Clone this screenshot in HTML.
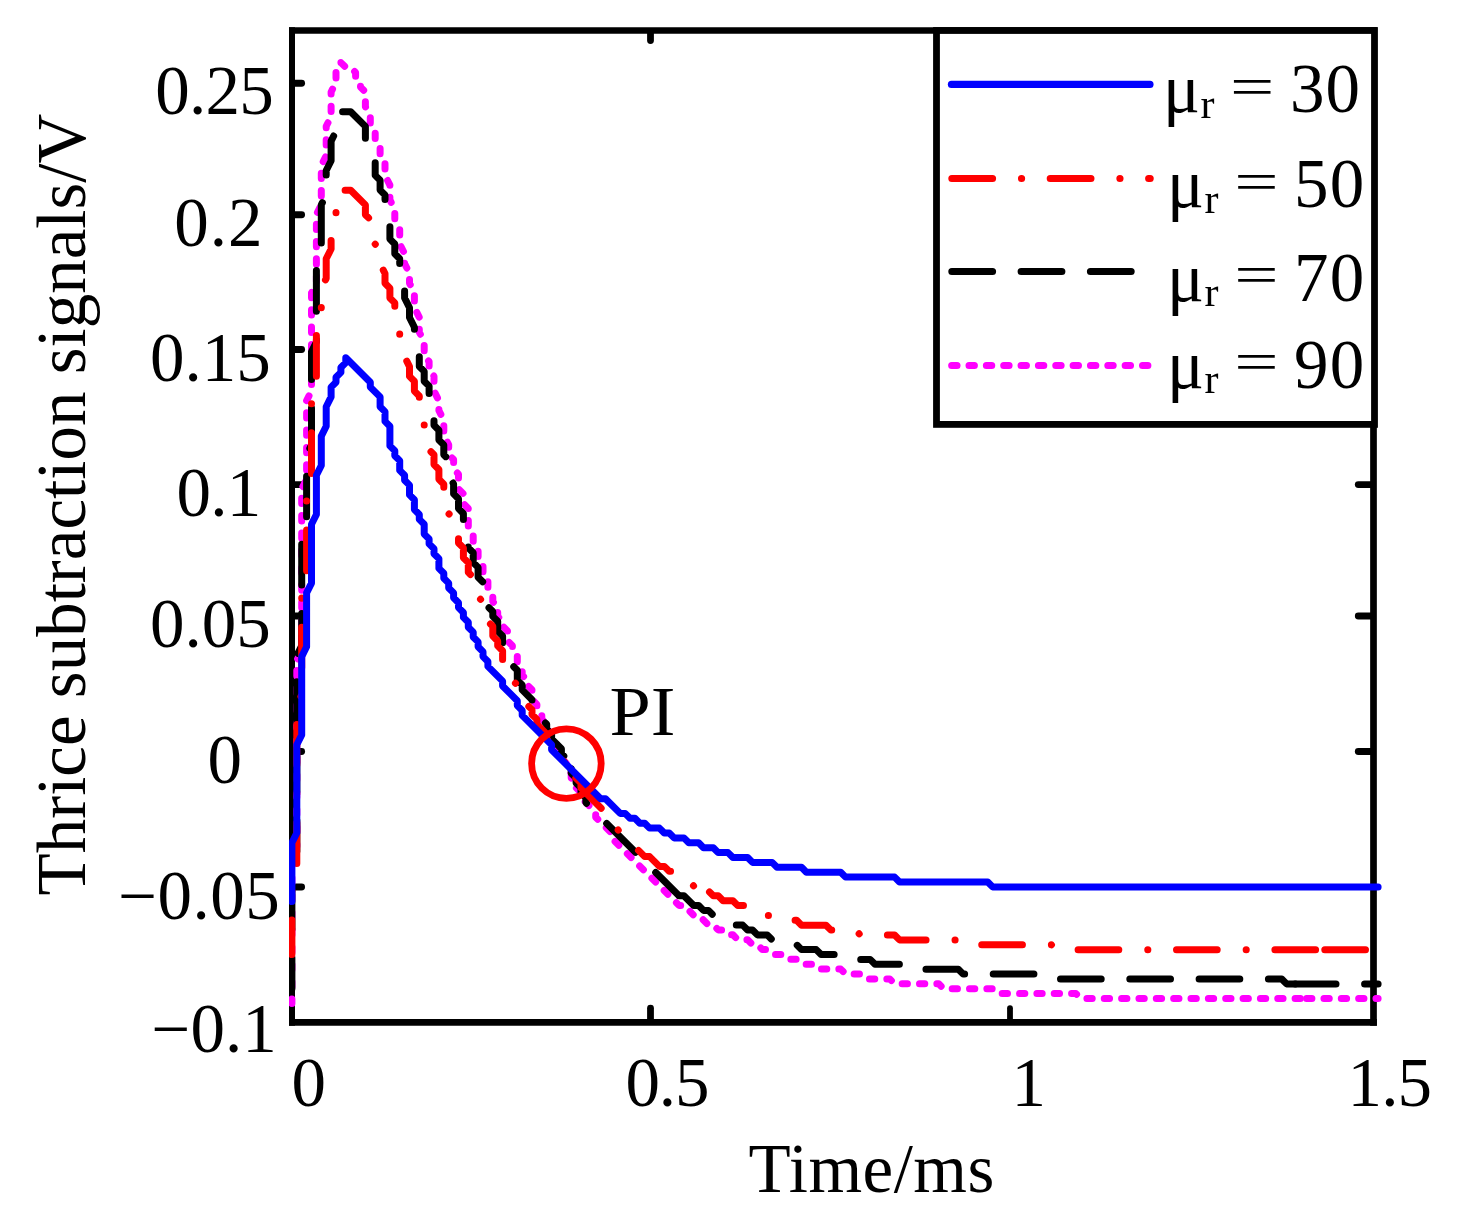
<!DOCTYPE html>
<html lang="en">
<head>
<meta charset="utf-8">
<title>Thrice subtraction signals</title>
<style>
html,body{margin:0;padding:0;background:#fff;}
body{width:1463px;height:1230px;overflow:hidden;}
svg{display:block;}
</style>
</head>
<body>
<svg width="1463" height="1230" viewBox="0 0 1463 1230">
<rect width="1463" height="1230" fill="#fff"/>
<g stroke="#000" fill="none" stroke-linecap="butt">
<line x1="292" y1="27.2" x2="292" y2="1025.8" stroke-width="6"/>
<line x1="289" y1="30.5" x2="1376.9" y2="30.5" stroke-width="6.6"/>
<line x1="1373.5" y1="27.2" x2="1373.5" y2="1025.8" stroke-width="6.7"/>
<line x1="289" y1="1022.4" x2="1376.9" y2="1022.4" stroke-width="6.8"/>
</g>
<g stroke="#000" fill="none" stroke-linecap="round">
<line x1="294.5" y1="83.3" x2="301.6" y2="83.3" stroke-width="6.9"/>
<line x1="294.5" y1="214.7" x2="301.6" y2="214.7" stroke-width="6.9"/>
<line x1="294.5" y1="349.5" x2="301.6" y2="349.5" stroke-width="6.9"/>
<line x1="294.5" y1="484.6" x2="301.6" y2="484.6" stroke-width="6.9"/>
<line x1="1371" y1="484.6" x2="1358.3" y2="484.6" stroke-width="6.9"/>
<line x1="294.5" y1="616.0" x2="301.6" y2="616.0" stroke-width="6.9"/>
<line x1="1371" y1="616.0" x2="1358.3" y2="616.0" stroke-width="6.9"/>
<line x1="294.5" y1="751.5" x2="301.6" y2="751.5" stroke-width="6.9"/>
<line x1="1371" y1="751.5" x2="1358.3" y2="751.5" stroke-width="6.9"/>
<line x1="294.5" y1="887.0" x2="301.6" y2="887.0" stroke-width="6.9"/>
<line x1="650.5" y1="1020" x2="650.5" y2="1008.2" stroke-width="6.8"/>
<line x1="650.5" y1="33" x2="650.5" y2="40.6" stroke-width="6.8"/>
<line x1="1010.0" y1="1020" x2="1010.0" y2="1008.2" stroke-width="5.8"/>
<line x1="1010.0" y1="33" x2="1010.0" y2="40.6" stroke-width="5.8"/>
</g>
<clipPath id="plotclip"><rect x="289.1" y="0" width="1174" height="1230"/></clipPath>
<g clip-path="url(#plotclip)">
<path d="M291.9 1003.4 L291.9 856.4 L296.8 846.6 L296.8 660.4 L301.7 650.6 L301.7 488.9 L306.6 479.1 L306.6 400.7 L311.5 390.9 L311.5 292.9 L316.4 283.1 L316.4 214.5 L321.3 204.7 L321.3 165.5 L326.2 155.7 L326.2 126.3 L331.1 116.5 L331.1 92.0 L336.0 82.2 L336.0 72.4 L340.9 67.5 L340.9 62.6 L345.8 67.5 L350.7 67.5 L355.6 72.4 L355.6 77.3 L360.5 82.2 L360.5 87.1 L365.4 92.0 L365.4 106.7 L370.3 116.5 L370.3 126.3 L375.2 131.2 L375.2 141.0 L380.1 145.9 L380.1 155.7 L385.0 160.6 L385.0 175.3 L389.9 185.1 L389.9 199.8 L394.8 209.6 L394.8 219.4 L399.7 229.2 L399.7 243.9 L404.6 253.7 L404.6 263.5 L409.5 273.3 L409.5 283.1 L414.4 292.9 L414.4 307.6 L419.3 317.4 L419.3 332.1 L424.2 341.9 L424.2 356.6 L429.1 361.5 L429.1 371.3 L434.0 376.2 L434.0 390.9 L438.9 400.7 L438.9 410.5 L443.8 420.3 L443.8 435.0 L448.7 444.8 L448.7 454.6 L453.6 459.5 L453.6 469.3 L458.5 474.2 L458.5 488.9 L463.4 493.8 L463.4 503.6 L468.3 508.5 L468.3 528.1 L473.2 533.0 L473.2 542.8 L478.1 547.7 L478.1 557.5 L483.0 562.4 L483.0 572.2 L487.9 577.1 L487.9 591.8 L492.8 596.7 L492.8 601.6 L497.7 606.5 L497.7 616.3 L502.6 621.2 L502.6 626.1 L507.5 631.0 L507.5 640.8 L512.4 645.7 L512.4 650.6 L517.3 655.5 L517.3 665.3 L522.2 670.2 L522.2 675.1 L527.1 680.0 L527.1 684.9 L532.0 689.8 L532.0 699.6 L536.9 704.5 L536.9 709.4 L541.8 714.3 L541.8 719.2 L546.7 724.1 L546.7 729.0 L551.6 733.9 L551.6 738.8 L556.5 743.7 L556.5 748.6 L561.4 753.5 L561.4 758.4 L566.3 763.3 L566.3 768.2 L571.2 773.1 L571.2 778.0 L576.1 782.9 L576.1 787.8 L581.0 792.7 L581.0 797.6 L595.7 812.3 L595.7 817.2 L610.4 831.9 L610.4 836.8 L679.0 905.4 L683.9 905.4 L690.0 911.5" fill="none" stroke="#ff00ff" stroke-width="7.0" stroke-linecap="round" stroke-linejoin="round" stroke-dasharray="5.3 12.05" stroke-dashoffset="1.01"/>
<path d="M690.0 911.5 L693.7 915.2 L698.6 915.2 L708.4 925.0 L713.3 925.0 L718.2 929.9 L723.1 929.9 L728.0 934.8 L732.9 934.8 L737.8 939.7 L747.6 939.7 L752.5 944.6 L757.4 944.6 L762.3 949.5 L767.2 949.5 L772.1 954.4 L781.9 954.4 L786.8 959.3 L796.6 959.3 L801.5 964.2 L816.2 964.2 L821.1 969.1 L840.7 969.1 L845.6 974.0 L860.3 974.0 L865.2 978.9 L889.7 978.9 L894.6 983.8 L938.7 983.8 L943.6 988.7 L992.6 988.7 L997.5 993.6 L1075.9 993.6 L1080.8 998.5 L1306.6 998.5" fill="none" stroke="#ff00ff" stroke-width="7.0" stroke-linecap="round" stroke-linejoin="round" stroke-dasharray="5.3 12.05" stroke-dashoffset="0.81"/>
<path d="M1306.6 998.5 L1378.1 998.5" fill="none" stroke="#ff00ff" stroke-width="7.0" stroke-linecap="round" stroke-linejoin="round" stroke-dasharray="5.3 12.05" stroke-dashoffset="0.00"/>
<path d="M291.9 988.8 L291.9 861.4 L296.8 851.6 L296.8 655.6 L301.7 645.8 L301.7 528.2 L306.6 518.4 L306.6 454.7 L311.5 444.9 L311.5 351.8 L316.4 342.0 L316.4 268.5 L321.3 258.7 L321.3 204.8 L326.2 195.0 L326.2 170.5 L331.1 160.7 L331.1 141.1 L336.0 131.3 L336.0 121.5 L340.9 116.6 L340.9 111.7 L350.7 111.7 L365.4 126.4 L365.4 141.1 L370.3 146.0 L370.3 155.8 L375.2 160.7 L375.2 175.4 L380.1 180.3 L380.1 190.1 L385.0 195.0 L385.0 214.6 L389.9 224.4 L389.9 239.1 L394.8 244.0 L394.8 253.8 L399.7 258.7 L399.7 273.4 L404.6 283.2 L404.6 297.9 L409.5 307.7 L409.5 317.5 L414.4 327.3 L414.4 342.0 L419.3 351.8 L419.3 366.5 L424.2 371.4 L424.2 381.2 L429.1 386.1 L429.1 405.7 L434.0 415.5 L434.0 425.3 L438.9 430.2 L438.9 440.0 L443.8 444.9 L443.8 454.7 L448.7 459.6 L448.7 474.3 L453.6 484.1 L453.6 493.9 L458.5 498.8 L458.5 508.6 L463.4 513.5 L463.4 528.2 L468.3 538.0 L468.3 547.8 L473.2 552.7 L473.2 562.5 L478.1 567.4 L478.1 577.2 L483.0 582.1 L483.0 591.9 L487.9 596.8 L487.9 606.6 L492.8 611.5 L492.8 616.4 L497.7 621.3 L497.7 631.1 L502.6 636.0 L502.6 645.8 L507.5 650.7 L507.5 655.6 L512.4 660.5 L512.4 665.4 L517.3 670.3 L517.3 680.1 L522.2 685.0 L522.2 689.9 L532.0 699.7 L532.0 704.6 L536.9 709.5 L536.9 714.4 L546.7 724.2 L546.7 729.1 L551.6 734.0 L551.6 738.9 L561.4 748.7 L561.4 753.6 L566.0 758.2" fill="none" stroke="#000000" stroke-width="7.0" stroke-linecap="round" stroke-linejoin="round" stroke-dasharray="40.7 28.6" stroke-dashoffset="9.66"/>
<path d="M566.0 758.2 L566.3 758.5 L566.3 763.4 L571.2 768.3 L571.2 773.2 L576.1 778.1 L576.1 783.0 L581.0 787.9 L581.0 792.8 L585.9 797.7 L585.9 802.6 L678.0 894.7" fill="none" stroke="#000000" stroke-width="7.0" stroke-linecap="round" stroke-linejoin="round" stroke-dasharray="40.7 28.6" stroke-dashoffset="56.54"/>
<path d="M678.0 894.7 L679.0 895.7 L683.9 895.7 L693.7 905.5 L698.6 905.5 L703.5 910.4 L708.4 910.4 L713.3 915.3 L718.2 915.3 L723.1 920.2 L728.0 920.2 L732.9 925.1 L742.7 925.1 L747.6 930.0 L752.5 930.0 L757.4 934.9 L767.2 934.9 L772.1 939.8 L781.9 939.8 L786.8 944.7 L796.6 944.7 L801.5 949.6 L816.2 949.6 L821.1 954.5 L840.7 954.5 L845.6 959.4 L870.1 959.4 L875.0 964.3 L904.4 964.3 L909.3 969.2 L958.3 969.2 L963.2 974.1 L1041.6 974.1 L1046.5 979.0 L1281.7 979.0 L1286.6 983.9 L1295.3 983.9" fill="none" stroke="#000000" stroke-width="7.0" stroke-linecap="round" stroke-linejoin="round" stroke-dasharray="40.7 28.6" stroke-dashoffset="67.68"/>
<path d="M1295.3 983.9 L1378.1 983.9" fill="none" stroke="#000000" stroke-width="7.0" stroke-linecap="round" stroke-linejoin="round" stroke-dasharray="40.7 28.6" stroke-dashoffset="0.00"/>
<path d="M291.9 954.6 L291.9 886.0 L296.8 876.2 L296.8 704.7 L301.7 694.9 L301.7 587.1 L306.6 577.3 L306.6 494.0 L311.5 484.2 L311.5 400.9 L316.4 391.1 L316.4 327.4 L321.3 317.6 L321.3 288.2 L326.2 278.4 L326.2 258.8 L331.1 249.0 L331.1 234.3 L336.0 224.5 L336.0 209.8 L340.9 204.9 L340.9 190.2 L350.7 190.2 L365.4 204.9 L365.4 214.7 L370.3 219.6 L370.3 229.4 L375.2 234.3 L375.2 244.1 L380.1 249.0 L380.1 263.7 L385.0 273.5 L385.0 283.3 L389.9 288.2 L389.9 298.0 L394.8 302.9 L394.8 317.6 L399.7 327.4 L399.7 337.2 L404.6 347.0 L404.6 356.8 L409.5 366.6 L409.5 376.4 L414.4 381.3 L414.4 391.1 L419.3 396.0 L419.3 410.7 L424.2 420.5 L424.2 430.3 L429.1 440.1 L429.1 449.9 L434.0 454.8 L434.0 464.6 L438.9 469.5 L438.9 479.3 L443.8 484.2 L443.8 498.9 L448.7 503.8 L448.7 513.6 L453.6 518.5 L453.6 528.3 L458.5 533.2 L458.5 543.0 L463.4 547.9 L463.4 557.7 L468.3 562.6 L468.3 572.4 L473.2 577.3 L473.2 587.1 L478.1 592.0 L478.1 596.9 L483.0 601.8 L483.0 611.6 L487.9 616.5 L487.9 621.4 L492.8 626.3 L492.8 636.1 L497.7 641.0 L497.7 645.9 L502.6 650.8 L502.6 660.6 L507.5 665.5 L507.5 670.4 L512.4 675.3 L512.4 680.2 L517.3 685.1 L517.3 690.0 L522.2 694.9 L522.2 699.8 L532.0 709.6 L532.0 714.5 L536.9 719.4 L536.9 724.3 L546.7 734.1 L546.7 739.0 L556.5 748.8 L556.5 753.7 L566.0 763.2" fill="none" stroke="#ff0000" stroke-width="7.0" stroke-linecap="round" stroke-linejoin="round" stroke-dasharray="40.7 28.95 0.1 28.65" stroke-dashoffset="6.16"/>
<path d="M566.0 763.2 L571.2 768.4 L571.2 773.3 L581.0 783.1 L581.0 788.0 L610.4 817.4 L610.4 822.3 L644.7 856.6 L649.6 856.6 L659.4 866.4 L664.3 866.4 L669.2 871.3 L674.1 871.3 L679.0 876.2 L683.9 876.2 L693.7 886.0 L698.6 886.0 L703.5 890.9 L708.4 890.9 L709.5 892.0" fill="none" stroke="#ff0000" stroke-width="7.0" stroke-linecap="round" stroke-linejoin="round" stroke-dasharray="40.7 28.95 0.1 28.65" stroke-dashoffset="79.57"/>
<path d="M709.5 892.0 L713.3 895.8 L718.2 895.8 L723.1 900.7 L732.9 900.7 L737.8 905.6 L747.6 905.6 L752.5 910.5 L762.3 910.5 L767.2 915.4 L777.0 915.4 L781.9 920.3 L796.6 920.3 L801.5 925.2 L826.0 925.2 L830.9 930.1 L855.4 930.1 L860.3 935.0 L894.6 935.0 L899.5 939.9 L958.3 939.9 L963.2 944.8 L1051.4 944.8 L1056.3 949.7 L1324.8 949.7" fill="none" stroke="#ff0000" stroke-width="7.0" stroke-linecap="round" stroke-linejoin="round" stroke-dasharray="40.7 28.95 0.1 28.65" stroke-dashoffset="1.10"/>
<path d="M1324.8 949.7 L1378.1 949.7" fill="none" stroke="#ff0000" stroke-width="7.0" stroke-linecap="round" stroke-linejoin="round" stroke-dasharray="40.7 28.95 0.1 28.65" stroke-dashoffset="0.00"/>
<path d="M291.9 901.6 L291.9 842.8 L296.8 833.0 L296.8 744.8 L301.7 735.0 L301.7 656.6 L306.6 646.8 L306.6 592.9 L311.5 583.1 L311.5 524.3 L316.4 514.5 L316.4 475.3 L321.3 465.5 L321.3 436.1 L326.2 426.3 L326.2 406.7 L331.1 396.9 L331.1 387.1 L336.0 382.2 L336.0 377.3 L340.9 372.4 L340.9 367.5 L345.8 362.6 L345.8 357.7 L370.3 382.2 L370.3 387.1 L380.1 396.9 L380.1 406.7 L385.0 411.6 L385.0 421.4 L389.9 426.3 L389.9 445.9 L394.8 450.8 L394.8 455.7 L399.7 460.6 L399.7 470.4 L404.6 475.3 L404.6 480.2 L409.5 485.1 L409.5 494.9 L414.4 499.8 L414.4 509.6 L419.3 514.5 L419.3 519.4 L424.2 524.3 L424.2 534.1 L429.1 539.0 L429.1 543.9 L434.0 548.8 L434.0 553.7 L438.9 558.6 L438.9 568.4 L443.8 573.3 L443.8 578.2 L448.7 583.1 L448.7 588.0 L453.6 592.9 L453.6 597.8 L458.5 602.7 L458.5 607.6 L463.4 612.5 L463.4 617.4 L468.3 622.3 L468.3 627.2 L473.2 632.1 L473.2 637.0 L478.1 641.9 L478.1 646.8 L483.0 651.7 L483.0 656.6 L487.9 661.5 L487.9 666.4 L502.6 681.1 L502.6 686.0 L517.3 700.7 L517.3 705.6 L522.2 710.5 L522.2 715.4 L551.6 744.8 L551.6 749.7 L600.6 798.7 L605.5 798.7 L620.2 813.4 L625.1 813.4 L630.0 818.3 L634.9 818.3 L639.8 823.2 L644.7 823.2 L649.6 828.1 L659.4 828.1 L664.3 833.0 L669.2 833.0 L674.1 837.9 L683.9 837.9 L688.8 842.8 L698.6 842.8 L703.5 847.7 L713.3 847.7 L718.2 852.6 L728.0 852.6 L732.9 857.5 L747.6 857.5 L752.5 862.4 L772.1 862.4 L777.0 867.3 L801.5 867.3 L806.4 872.2 L840.7 872.2 L845.6 877.1 L894.6 877.1 L899.5 882.0 L987.7 882.0 L992.6 886.9 L1378.1 886.9" fill="none" stroke="#0000ff" stroke-width="7.0" stroke-linecap="round" stroke-linejoin="round"/>
</g>
<circle cx="566.4" cy="763.6" r="34.8" fill="none" stroke="#ff0000" stroke-width="6.8"/>
<rect x="936.5" y="30.5" width="438" height="393.9" fill="#fff" stroke="#000" stroke-width="6.8"/>
<g fill="none" stroke-linecap="round" stroke-width="7.1">
<line x1="951.4" y1="84.4" x2="1150" y2="84.4" stroke="#0000ff"/>
<line x1="951.85" y1="178.5" x2="1150.2" y2="178.5" stroke="#ff0000" stroke-dasharray="40.7 28.95 0.1 28.65"/>
<line x1="951.85" y1="271.5" x2="1150.2" y2="271.5" stroke="#000" stroke-dasharray="40.7 28.6"/>
<line x1="951.7" y1="365.5" x2="1150.2" y2="365.5" stroke="#ff00ff" stroke-dasharray="5.3 12.05"/>
</g>
<g font-family="'Liberation Serif', serif" font-size="69" fill="#000">
<g>
<text y="112.0"><tspan x="1163.0">μ</tspan><tspan x="1200.4" font-size="42" dy="5.6">r</tspan></text>
<text transform="matrix(1.14 0 0 0.794 1230.1 104.6)" x="0" y="0">=</text>
<text x="1289.9" y="112.0" letter-spacing="1.2">30</text>
</g>
<g>
<text y="206.9"><tspan x="1167.1">μ</tspan><tspan x="1204.5" font-size="42" dy="5.6">r</tspan></text>
<text transform="matrix(1.14 0 0 0.794 1234.2 199.5)" x="0" y="0">=</text>
<text x="1294.0" y="206.9" letter-spacing="1.2">50</text>
</g>
<g>
<text y="300.8"><tspan x="1167.1">μ</tspan><tspan x="1204.5" font-size="42" dy="5.6">r</tspan></text>
<text transform="matrix(1.14 0 0 0.794 1234.2 293.4)" x="0" y="0">=</text>
<text x="1294.0" y="300.8" letter-spacing="1.2">70</text>
</g>
<g>
<text y="387.7"><tspan x="1167.1">μ</tspan><tspan x="1204.5" font-size="42" dy="5.6">r</tspan></text>
<text transform="matrix(1.14 0 0 0.794 1234.2 380.3)" x="0" y="0">=</text>
<text x="1294.0" y="387.7" letter-spacing="1.2">90</text>
</g>
<text x="155.3" y="114.3" letter-spacing="-0.77">0.25</text>
<text x="174.2" y="245.8" letter-spacing="1.05">0.2</text>
<text x="150.0" y="381.0">0.15</text>
<text x="176.6" y="516.4" letter-spacing="-0.85">0.1</text>
<text x="150.0" y="646.8">0.05</text>
<text x="207.4" y="782.5">0</text>
<text x="118.2" y="919.4" letter-spacing="0.50">−0.05</text>
<text x="151.6" y="1052.0">−0.1</text>
<text x="291.5" y="1106.3">0</text>
<text x="625.5" y="1106.3" letter-spacing="-1.15">0.5</text>
<text x="1011.5" y="1106.3">1</text>
<text x="1347.6" y="1106.3" letter-spacing="-0.95">1.5</text>
<text x="748.6" y="1191.8" letter-spacing="0.47">Time/ms</text>
<text transform="translate(609.6 734.8) scale(1.075 1)" letter-spacing="-0.2">PI</text>
<text transform="translate(84.7 895.5) rotate(-90)">Thrice subtraction signals/V</text>
</g>
</svg>
</body>
</html>
